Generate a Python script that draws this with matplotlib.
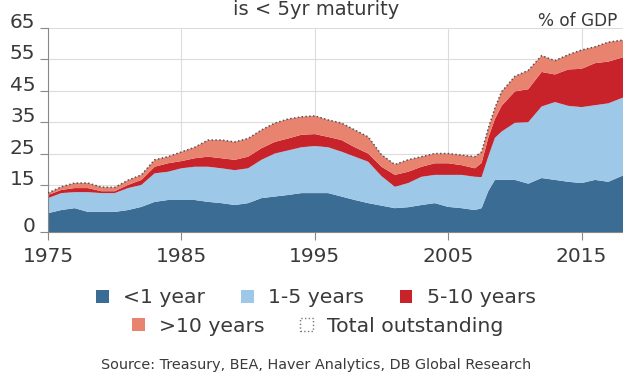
import numpy as np
import matplotlib
matplotlib.use("Agg")
import matplotlib.pyplot as plt
from matplotlib.patches import Patch

# US Treasury debt outstanding by remaining maturity, % of GDP
years = np.array([
    1975, 1976, 1977, 1978, 1979, 1980, 1981, 1982, 1983, 1984,
    1985, 1986, 1987, 1988, 1989, 1990, 1991, 1992, 1993, 1994,
    1995, 1996, 1997, 1998, 1999, 2000, 2001, 2002, 2003, 2004,
    2005, 2006, 2007, 2007.5, 2008, 2008.5, 2009, 2010, 2011, 2012,
    2013, 2014, 2015, 2016, 2017, 2018.2,
])
under_1y = np.array([
    6.0, 7.0, 7.6, 6.4, 6.4, 6.4, 7.0, 8.0, 9.6, 10.2,
    10.2, 10.2, 9.6, 9.2, 8.6, 9.2, 10.8, 11.3, 11.8, 12.4,
    12.4, 12.4, 11.3, 10.2, 9.2, 8.4, 7.6, 7.9, 8.6, 9.2,
    8.0, 7.6, 7.0, 7.6, 13.0, 16.6, 16.6, 16.6, 15.4, 17.2,
    16.6, 16.0, 15.6, 16.6, 16.0, 18.2,
])
y1_5 = np.array([
    4.8, 5.4, 5.1, 6.3, 6.0, 6.0, 7.0, 7.0, 9.1, 9.0,
    10.1, 10.6, 11.2, 11.1, 11.1, 11.1, 12.2, 13.7, 14.2, 14.6,
    15.0, 14.6, 14.3, 13.8, 13.2, 9.4, 6.8, 7.7, 9.0, 9.0,
    10.2, 10.6, 10.6, 9.9, 11.0, 13.4, 15.4, 18.2, 19.6, 22.8,
    24.8, 24.2, 24.2, 23.8, 25.0, 24.8,
])
y5_10 = np.array([
    1.0, 1.0, 1.3, 1.3, 0.6, 0.6, 1.0, 1.6, 2.1, 2.7,
    2.3, 2.7, 3.2, 3.2, 3.3, 3.7, 3.7, 3.7, 3.8, 4.0,
    3.8, 3.3, 3.7, 3.0, 2.6, 3.0, 3.8, 3.6, 3.2, 3.7,
    3.7, 3.1, 2.7, 4.5, 6.0, 6.0, 8.2, 10.0, 10.5, 11.0,
    8.8, 11.6, 12.2, 13.4, 13.3, 12.8,
])
over_10y = np.array([
    0.6, 1.0, 1.6, 1.6, 1.3, 1.2, 1.5, 1.6, 2.2, 2.1,
    2.9, 3.5, 5.3, 5.8, 5.7, 5.8, 5.8, 6.0, 6.2, 5.7,
    5.8, 5.4, 5.4, 5.5, 5.3, 3.8, 3.3, 3.8, 3.2, 3.1,
    3.1, 3.2, 3.7, 3.5, 3.0, 3.5, 4.5, 4.8, 6.0, 5.2,
    4.4, 4.7, 6.0, 5.2, 6.2, 5.4,
])
total = under_1y + y1_5 + y5_10 + over_10y

labels = ["<1 year", "1-5 years", "5-10 years", ">10 years"]
colors = ["#3b6c93", "#9dc8e8", "#c8222b", "#e8836f"]
yticks = [0, 15, 25, 35, 45, 55, 65]
xticks = [1975, 1985, 1995, 2005, 2015]

TXT = "#3a3a3a"
plt.rcParams["font.family"] = ["DejaVu Sans"]

fig = plt.figure(figsize=(6.23, 3.77), dpi=100)
ax = fig.add_axes([0.077, 0.3846, 0.923, 0.5411])

ax.stackplot(years, under_1y, y1_5, y5_10, over_10y,
             colors=colors, linewidth=0, zorder=2)
ax.plot(years, total, linestyle=(0, (1, 1.5)), color="#555555",
        linewidth=1.1, zorder=3)

ax.set_xlim(1975, 2018.1)
ax.set_ylim(0, 65)
ax.set_xticks(xticks)
ax.set_yticks(yticks)
ax.grid(True, color="#dcdcdc", linewidth=0.8, zorder=0)
ax.set_axisbelow(True)
for s in ["top", "right"]:
    ax.spines[s].set_visible(False)
for s in ["left", "bottom"]:
    ax.spines[s].set_color("#888888")
    ax.spines[s].set_linewidth(0.8)
ax.tick_params(axis="both", colors="#888888", labelcolor=TXT,
               labelsize=14.5, length=6, width=0.8)
ax.tick_params(axis="y", pad=3)
ax.tick_params(axis="x", pad=5)
for lab in ax.get_yticklabels():
    lab.set_va("baseline")

fig.text(0.508, 0.960, "is < 5yr maturity", ha="center", va="baseline",
         fontsize=14, color=TXT)
fig.text(0.864, 0.931, "% of GDP", ha="left", va="baseline",
         fontsize=12.2, color=TXT)

kw = dict(frameon=False, fontsize=14.7, handlelength=0.62, handleheight=0.62,
          handletextpad=0.7, columnspacing=1.75, borderaxespad=0,
          labelcolor=TXT)
h1 = [Patch(facecolor=c, edgecolor="none") for c in colors[:3]]
fig.legend(h1, labels[:3], loc="center", bbox_to_anchor=(0.507, 0.21),
           ncol=3, **kw)
h2 = [Patch(facecolor=colors[3], edgecolor="none"),
      Patch(facecolor="white", edgecolor="#777777", linestyle=":",
            linewidth=1.0)]
fig.legend(h2, [labels[3], "Total outstanding"], loc="center",
           bbox_to_anchor=(0.51, 0.135), ncol=2, **kw)

fig.text(0.508, 0.032, "Source: Treasury, BEA, Haver Analytics, DB Global Research",
         ha="center", va="center", fontsize=10.4, color=TXT)

fig.savefig("out.png", dpi=100)
